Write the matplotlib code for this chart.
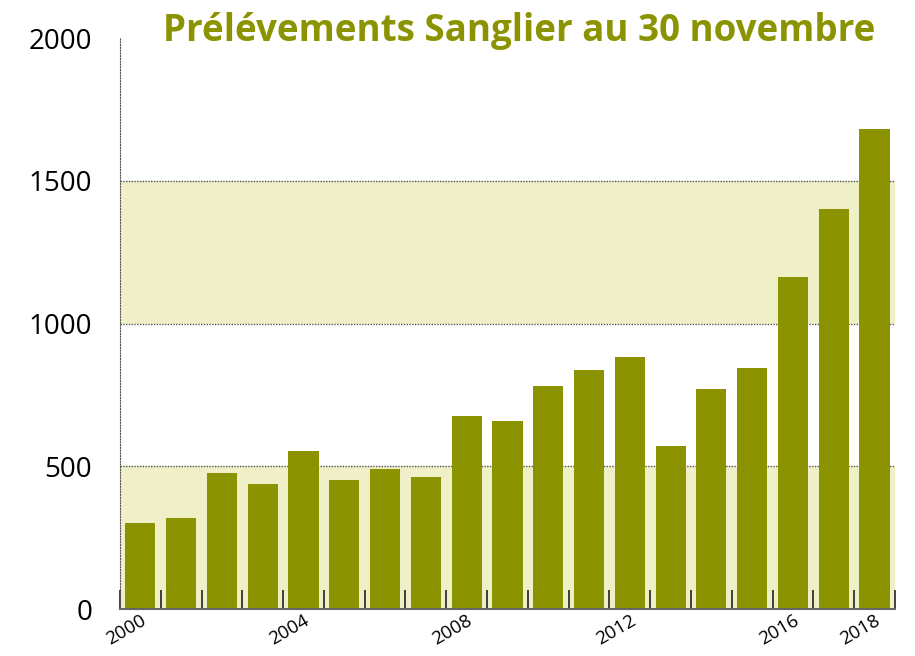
import matplotlib.pyplot as plt
import numpy as np

years = list(range(2000, 2019))
prelevements = [301, 319, 476, 438, 553, 452, 490, 462, 676, 658,
                781, 837, 883, 571, 771, 844, 1163, 1401, 1681]
label_years = [2000, 2004, 2008, 2012, 2016, 2018]

olive = '#8b9400'
band = '#f0f0c8'

plt.rcParams['font.family'] = ['Open Sans', 'DejaVu Sans']

fig = plt.figure(figsize=(9.15, 6.56), dpi=100)
ax = fig.add_axes([0.1311, 0.0716, 0.8470, 0.8704])

x = np.arange(len(years))
ax.axhspan(0, 500, color=band, zorder=0, lw=0)
ax.axhspan(1000, 1500, color=band, zorder=0, lw=0)
for yv in [500, 1000, 1500]:
    ax.axhline(yv, color='#555555', lw=1, ls=(0, (1, 1)), zorder=1)

ax.bar(x, prelevements, width=0.74, color=olive, zorder=2)

ax.set_xlim(-0.5, len(years) - 0.5)
ax.set_ylim(0, 2000)
ax.set_yticks([0, 500, 1000, 1500, 2000])
ax.tick_params(axis='y', length=0, pad=20, labelsize=20)

ax.set_xticks([years.index(y) for y in label_years])
ax.set_xticklabels([str(y) for y in label_years], rotation=30, ha='right',
                   rotation_mode='anchor', fontsize=13.5)
ax.tick_params(axis='x', which='major', length=0, pad=2)
ax.set_xticks(np.arange(-0.5, len(years)), minor=True)
ax.tick_params(axis='x', which='minor', direction='in', length=14,
               width=1.2, color='#222222')

for s in ['top', 'right']:
    ax.spines[s].set_visible(False)
ax.spines['left'].set_linestyle((0, (1, 1.5)))
ax.spines['left'].set_color('#555555')
ax.spines['bottom'].set_color('#666666')
ax.spines['bottom'].set_linewidth(1.5)
ax.spines['bottom'].set_zorder(3)

fig.text(0.567, 0.952, 'Prélévements Sanglier au 30 novembre', color=olive,
         fontsize=26.5, fontweight='bold', ha='center', va='center')

fig.savefig('out.png', dpi=100)
